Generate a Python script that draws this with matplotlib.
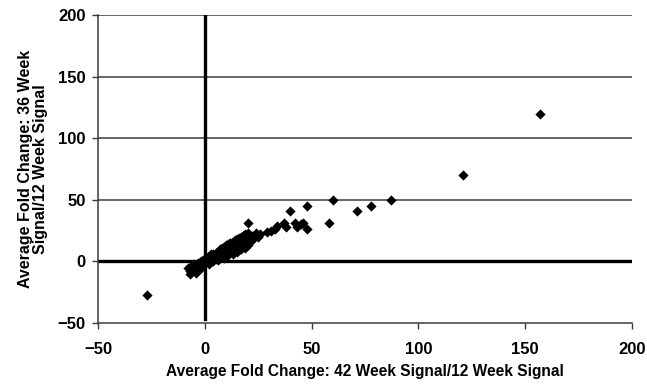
import numpy as np
import matplotlib.pyplot as plt

plt.rcParams['font.family'] = ['Liberation Sans', 'DejaVu Sans']

# Average fold change values
fold_42wk = [
    -27, -8, -7, -6, -5, -5, -4, -3, -3, -2, -2, -1, -1, 0, 0, 1, 1, 2, 2, 3,
    3, 4, 4, 5, 5, 5, 6, 6, 7, 7, 7, 8, 8, 8, 9, 9, 9, 10, 10, 10,
    11, 11, 11, 12, 12, 12, 13, 13, 13, 14, 14, 14, 15, 15, 15, 16, 16, 16, 17, 17,
    17, 18, 18, 18, 19, 19, 19, 20, 20, 20, 21, 21, 20, 22, 24, 26, 29, 31, 33, 34,
    37, 38, 40, 42, 43, 45, 46, 48, 48, 58, 60, 71, 78, 87, 121, 157,
    -7, -6, -4, 2, 4, 6, 9, 11, 13, 15, 17, 19, 3, 8, 12, 16, 18, 22, 23, 25,
]
fold_36wk = [
    -27, -5, -8, -3, -6, -2, -9, -4, -1, -5, 0, -3, 1, -1, 2, 0, 3, 1, 4, 2,
    5, 3, 6, 2, 4, 7, 3, 6, 5, 8, 10, 4, 7, 11, 6, 9, 12, 5, 8, 13,
    7, 10, 14, 8, 11, 15, 9, 12, 16, 10, 13, 17, 11, 14, 18, 12, 15, 19, 13, 17,
    20, 14, 18, 21, 15, 19, 22, 13, 17, 23, 16, 20, 31, 21, 23, 22, 24, 25, 26, 29,
    31, 28, 41, 31, 28, 30, 31, 26, 45, 31, 50, 41, 45, 50, 70, 120,
    -10, -4, -7, -2, 0, 1, 3, 5, 6, 8, 10, 11, 6, 10, 15, 17, 21, 18, 19, 20,
]

x = np.array(fold_42wk)
y = np.array(fold_36wk)

fig = plt.figure(figsize=(6.47, 3.85), dpi=100)
ax = fig.add_axes([0.1515, 0.161, 0.8255, 0.8])

ax.set_xlim(-50, 200)
ax.set_ylim(-50, 200)
ax.set_xticks([-50, 0, 50, 100, 150, 200])
ax.set_yticks([-50, 0, 50, 100, 150, 200])

# horizontal gridlines and heavy zero lines
for gy in [50, 100, 150, 200]:
    ax.axhline(gy, color='#3a3a3a', lw=1.1, zorder=1)
ax.axhline(0, color='black', lw=2.4, zorder=2)
ax.plot([0, 0], [-47, 200], color='black', lw=2.4, zorder=2)

ax.scatter(x, y, marker='D', s=27, color='black', zorder=3, linewidths=0)

for side in ['top', 'right']:
    ax.spines[side].set_visible(False)
for side in ['left', 'bottom']:
    ax.spines[side].set_color('#3a3a3a')
    ax.spines[side].set_linewidth(1.1)
ax.tick_params(direction='out', length=4, width=1, color='#3a3a3a',
               labelsize=12)
ax.tick_params(axis='x', pad=10)
ax.tick_params(axis='y', pad=5)
for lab in ax.get_xticklabels() + ax.get_yticklabels():
    lab.set_fontweight('bold')

ax.set_xlabel('Average Fold Change: 42 Week Signal/12 Week Signal',
              fontsize=11.2, fontweight='bold', labelpad=5)
ax.set_ylabel('Average Fold Change: 36 Week\nSignal/12 Week Signal',
              fontsize=11.5, fontweight='bold', labelpad=7, linespacing=1.0)

fig.savefig('out.png', dpi=100)
